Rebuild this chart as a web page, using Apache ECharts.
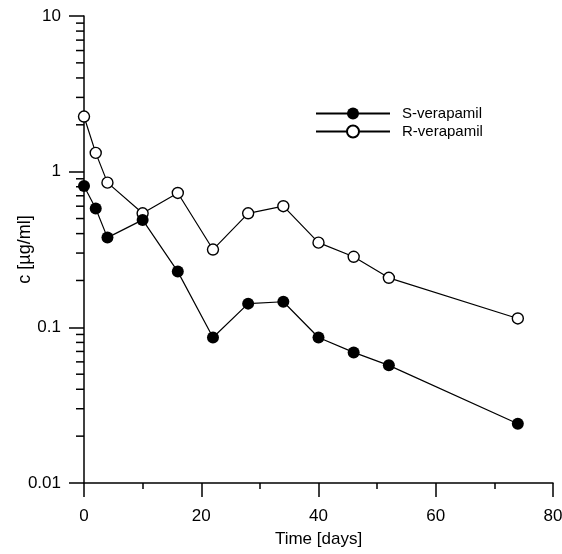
<!DOCTYPE html>
<html>
<head>
  <meta charset="UTF-8">
  <title>Verapamil concentration</title>
  <script src="https://cdn.jsdelivr.net/npm/echarts@6/dist/echarts.min.js"></script>
  <style>
    html, body { margin: 0; padding: 0; background: #fff; }
    #chart { width: 562px; height: 554px; }
  </style>
</head>
<body>
  <div id="chart"></div>
  <script>
    // time points (days)
    const days = [0, 2, 4, 10, 16, 22, 28, 34, 40, 46, 52, 74];
    // concentrations [µg/ml]
    const sVerapamil = [0.81, 0.58, 0.377, 0.49, 0.228, 0.086, 0.142, 0.146, 0.086, 0.069, 0.057, 0.024];
    const rVerapamil = [2.26, 1.32, 0.85, 0.54, 0.73, 0.316, 0.54, 0.60, 0.35, 0.284, 0.208, 0.114];
    const yTickLabels = ['0.01', '0.1', '1', '10'];

    // minor ticks of the log axis, 2..9 inside each decade
    const minorTicks = [];
    [0.01, 0.1, 1].forEach(d => {
      for (let k = 2; k <= 9; k++) minorTicks.push(+(d * k).toPrecision(3));
    });

    const font = 'Liberation Sans, Arial, sans-serif';

    const chart = echarts.init(document.getElementById('chart'), null, { renderer: 'canvas' });

    chart.setOption({
      animation: false,
      backgroundColor: '#fff',
      grid: { left: 84, right: 9, top: 16, bottom: 71, containLabel: false, outerBoundsMode: 'none' },
      legend: {
        orient: 'vertical',
        left: 310,
        top: 101,
        itemWidth: 74,
        itemHeight: 15,
        itemGap: 3,
        data: ['S-verapamil', 'R-verapamil'],
        textStyle: { fontFamily: font, fontSize: 15, color: '#000', padding: [0, 0, 0, 7] }
      },
      xAxis: {
        type: 'value',
        min: 0,
        max: 80,
        interval: 20,
        name: 'Time [days]',
        nameLocation: 'middle',
        nameGap: 48,
        nameMoveOverlap: false,
        nameTextStyle: { fontFamily: font, fontSize: 17, color: '#000' },
        axisLine: { lineStyle: { color: '#000', width: 1.5 } },
        axisTick: { show: true, inside: false, length: 14, lineStyle: { color: '#000', width: 1.5 } },
        minorTick: { show: true, splitNumber: 2, length: 6, lineStyle: { color: '#000', width: 1.5 } },
        axisLabel: { fontFamily: font, fontSize: 17, color: '#000', margin: 25 },
        splitLine: { show: false }
      },
      yAxis: {
        type: 'log',
        logBase: 10,
        min: 0.01,
        max: 10,
        name: 'c [µg/ml]',
        nameLocation: 'middle',
        nameGap: 50,
        nameMoveOverlap: false,
        nameRotate: 90,
        nameTextStyle: { fontFamily: font, fontSize: 18, color: '#000' },
        axisLine: { show: true, lineStyle: { color: '#000', width: 1.5 } },
        axisTick: { show: true, inside: false, length: 15, lineStyle: { color: '#000', width: 1.5 } },
        axisLabel: {
          fontFamily: font, fontSize: 17, color: '#000', margin: 23,
          formatter: v => {
            const s = yTickLabels.find(t => Math.abs(parseFloat(t) - v) < v * 1e-6);
            return s || '';
          }
        },
        splitLine: { show: false }
      },
      series: [
        {
          name: 'minor',
          type: 'custom',
          silent: true,
          clip: false,
          data: minorTicks.map(v => [0, v]),
          renderItem: (params, api) => {
            const p = api.coord([0, api.value(1)]);
            return {
              type: 'line',
              shape: { x1: p[0] - 8, y1: p[1], x2: p[0], y2: p[1] },
              style: { stroke: '#000', lineWidth: 1.5 }
            };
          },
          z: 1
        },
        {
          name: 'R-verapamil',
          type: 'line',
          data: days.map((d, i) => [d, rVerapamil[i]]),
          symbol: 'circle',
          symbolSize: 11,
          lineStyle: { color: '#000', width: 1.2 },
          itemStyle: { color: '#fff', borderColor: '#000', borderWidth: 1.4 },
          z: 3
        },
        {
          name: 'S-verapamil',
          type: 'line',
          data: days.map((d, i) => [d, sVerapamil[i]]),
          symbol: 'circle',
          symbolSize: 12,
          lineStyle: { color: '#000', width: 1.2 },
          itemStyle: { color: '#000', borderColor: '#000', borderWidth: 0 },
          z: 4
        }
      ]
    });
  </script>
</body>
</html>
